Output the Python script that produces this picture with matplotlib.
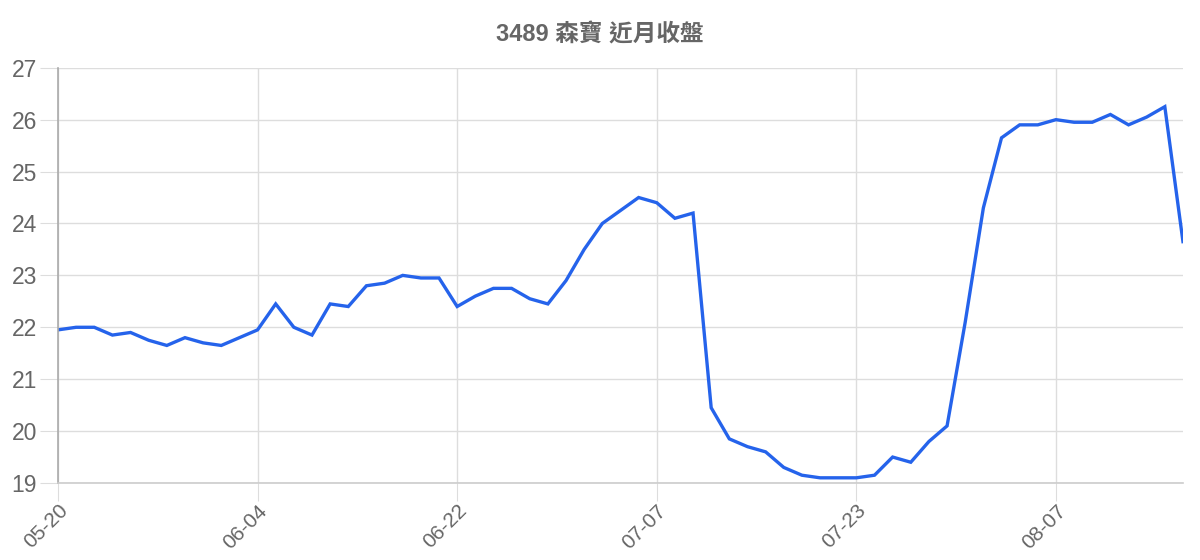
import matplotlib
matplotlib.use('Agg')
import matplotlib.pyplot as plt

# closing prices, one per trading day (63 days)
closes = [
    21.95, 22.0, 22.0, 21.85, 21.9, 21.75, 21.65, 21.8, 21.7, 21.65, 21.8,
    21.95, 22.45, 22.0, 21.85, 22.45, 22.4, 22.8, 22.85, 23.0, 22.95, 22.95,
    22.4, 22.6, 22.75, 22.75, 22.55, 22.45, 22.9, 23.5, 24.0, 24.25, 24.5,
    24.4, 24.1, 24.2, 20.45, 19.85, 19.7, 19.6, 19.3, 19.15, 19.1, 19.1,
    19.1, 19.15, 19.5, 19.4, 19.8, 20.1, 22.1, 24.3, 25.65, 25.9, 25.9,
    26.0, 25.95, 25.95, 26.1, 25.9, 26.05, 26.25, 23.65,
]
tick_days = [0, 11, 22, 33, 44, 55]
tick_labels = ['05-20', '06-04', '06-22', '07-07', '07-23', '08-07']
y_ticks = [19, 20, 21, 22, 23, 24, 25, 26, 27]
title = '3489 森寶 近月收盤'

plt.rcParams['font.family'] = ['Liberation Sans', 'Noto Sans CJK TC', 'DejaVu Sans']

fig = plt.figure(figsize=(12, 5.6), dpi=100)
ax = fig.add_axes([0.0483, 0.1375, 0.9375, 0.7415])

days = list(range(len(closes)))
ax.plot(days, closes, color='#2563eb', linewidth=2.4, solid_joinstyle='miter')

ax.set_xlim(0, len(closes) - 1)
ax.set_ylim(19, 27)
ax.set_yticks(y_ticks)
ax.set_xticks(tick_days)
ax.set_xticklabels(tick_labels, rotation=45, ha='right', va='top',
                   rotation_mode='anchor')

ax.grid(True, color='#dddddd', linewidth=1)
ax.set_axisbelow(True)
for s in ['top', 'right']:
    ax.spines[s].set_visible(False)
ax.spines['left'].set_color('#aaaaaa')
ax.spines['bottom'].set_color('#cccccc')
ax.spines['left'].set_linewidth(1.2)
ax.spines['bottom'].set_linewidth(1.2)
ax.tick_params(axis='y', length=13, color='#dddddd', labelcolor='#666666',
               labelsize=16.5, pad=2)
ax.tick_params(axis='x', length=13, color='#dddddd', labelcolor='#666666',
               labelsize=15, pad=0)

fig.text(0.5, 0.937, title, ha='center', va='center', fontsize=17,
         fontweight='bold', color='#666666',
         family=['Liberation Sans', 'Noto Sans CJK TC'])

fig.savefig('out.png', dpi=100)
